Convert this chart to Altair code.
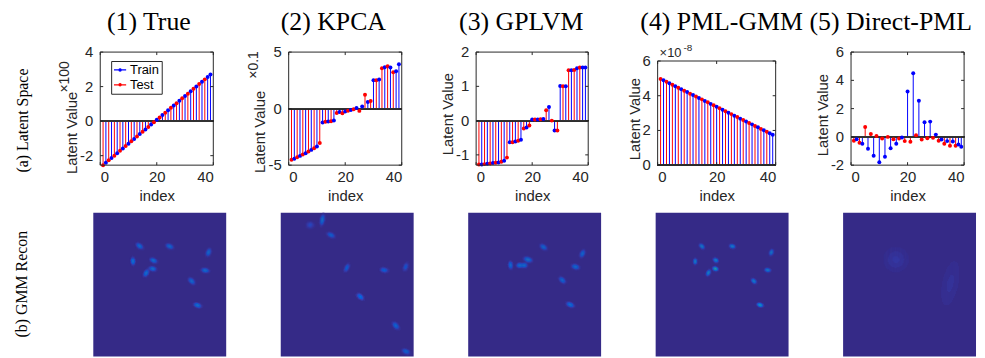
import altair as alt
import numpy as np
import pandas as pd

# ---------------- data ----------------
IDX = list(range(1, 40))
SET = ["Test", "Train"] * 19 + ["Train"]

TRUE_V = [-2.55, -2.41, -2.27, -2.14, -2.00, -1.86, -1.72, -1.58, -1.44, -1.31,
          -1.17, -1.03, -0.89, -0.75, -0.62, -0.48, -0.34, -0.20, -0.06, 0.08,
          0.21, 0.35, 0.49, 0.63, 0.77, 0.90, 1.04, 1.18, 1.32, 1.46,
          1.59, 1.73, 1.87, 2.01, 2.15, 2.28, 2.42, 2.56, 2.70]
KPCA_V = [-4.53, -4.44, -4.30, -4.18, -4.06, -3.95, -3.80, -3.65, -3.50, -3.36,
          -3.04, -1.23, -1.17, -1.14, -1.11, -1.05, -0.38, -0.29, -0.41, -0.26,
          -0.18, -0.12, -0.06, 0.06, -0.20, 0.18, 1.23, 0.58, 0.67, 2.51,
          2.51, 2.57, 3.57, 3.65, 3.74, 3.63, 3.22, 3.30, 3.92]
GPLVM_V = [-1.28, -1.28, -1.27, -1.26, -1.25, -1.24, -1.23, -1.22, -1.20, -1.17,
           -1.08, -0.63, -0.63, -0.61, -0.59, -0.56, -0.23, -0.20, -0.14, 0.03,
           0.03, 0.03, 0.04, 0.05, 0.30, 0.40, 0.00, -0.29, -0.29, 1.01,
           1.00, 1.00, 1.47, 1.47, 1.48, 1.53, 1.55, 1.55, 1.55]
PML_V = [4.97, 4.89, 4.80, 4.72, 4.63, 4.55, 4.46, 4.38, 4.29, 4.21,
         4.12, 4.04, 3.95, 3.87, 3.79, 3.70, 3.62, 3.53, 3.45, 3.36,
         3.28, 3.19, 3.11, 3.02, 2.94, 2.85, 2.77, 2.68, 2.60, 2.52,
         2.43, 2.35, 2.26, 2.18, 2.09, 2.01, 1.92, 1.84, 1.75]
DIRECT_V = [-0.28, -0.16, -0.42, -0.49, 0.70, -0.84, 0.21, -1.33, 0.07, -1.80,
            -0.12, -1.40, 0.00, -0.80, -0.16, -0.49, -0.12, -0.05, -0.30, 3.21,
            -0.35, 4.50, 0.12, 2.55, -0.19, 1.03, -0.09, 1.08, -0.07, 0.16,
            -0.28, -0.19, -0.49, -0.30, -0.63, -0.33, -0.63, -0.54, -0.70]

TITLES = ["(1) True", "(2) KPCA", "(3) GPLVM", "(4) PML-GMM", "(5) Direct-PML"]
ROW_LABELS = ["(a) Latent Space", "(b) GMM Recon"]
X_TICKS = [0, 20, 40]
Y_TICKS = [[-2, 0, 2, 4], [-5, 0, 5], [-1, 0, 1, 2], [0, 2, 4, 6], [-2, 0, 2, 4, 6]]
Y_LABELS = [["-2", "0", "2", "4"], ["-5", "0", "5"], ["-1", "0", "1", "2"],
            ["0", "2", "4", "6"], ["-2", "0", "2", "4", "6"]]

# GMM components for the reconstructed images: cx, cy, sigma_long, sigma_short, angle, peak
IMG1 = [(46.7, 33.7, 2.4, 1.5, 35, 0.24), (77.0, 34.0, 2.4, 1.5, 25, 0.24),
        (116.3, 40.0, 2.4, 1.5, -70, 0.24), (40.0, 49.0, 2.4, 1.4, 88, 0.24),
        (60.7, 48.3, 2.4, 1.5, 30, 0.24), (60.0, 56.7, 2.2, 1.5, 15, 0.24),
        (53.3, 61.0, 2.4, 1.5, -60, 0.24), (113.0, 58.3, 2.4, 1.5, 10, 0.24),
        (99.3, 69.0, 2.4, 1.5, 45, 0.24), (105.3, 93.3, 2.4, 1.5, 20, 0.24)]
IMG2 = [(29.7, 12.3, 2.6, 2.3, 0, 0.11), (42.0, 7.3, 3.2, 1.4, -80, 0.26),
        (50.7, 22.7, 2.6, 1.5, 25, 0.2), (66.7, 55.7, 2.8, 1.5, -65, 0.17),
        (104.3, 58.0, 2.6, 1.6, 10, 0.17), (126.0, 54.7, 2.8, 1.6, -70, 0.14),
        (80.3, 84.7, 2.6, 1.6, 40, 0.18), (116.0, 114.0, 2.6, 1.6, 50, 0.21),
        (126.3, 140.0, 2.6, 1.6, 25, 0.21)]
IMG3 = [(76.0, 34.7, 2.4, 1.5, 35, 0.23), (115.3, 41.3, 2.4, 1.5, -65, 0.22),
        (42.7, 53.0, 2.4, 1.4, 85, 0.22), (51.7, 53.3, 1.9, 1.6, 0, 0.22),
        (56.7, 53.3, 1.9, 1.6, 0, 0.22), (60.3, 47.3, 2.6, 1.6, 20, 0.27),
        (108.3, 54.7, 2.4, 1.6, 15, 0.23), (95.0, 68.0, 2.4, 1.5, 45, 0.23),
        (103.0, 92.7, 2.5, 1.5, 25, 0.23)]
IMG4 = [(46.7, 34.0, 1.8, 1.2, 45, 0.34), (77.3, 34.0, 1.8, 1.2, 15, 0.32),
        (116.7, 40.0, 1.8, 1.2, -70, 0.32), (40.0, 49.3, 1.8, 1.1, 90, 0.34),
        (60.7, 48.0, 1.7, 1.3, 40, 0.32), (60.3, 56.7, 1.6, 1.2, 20, 0.52),
        (53.3, 60.7, 1.9, 1.2, -65, 0.34), (113.0, 58.0, 1.8, 1.2, 10, 0.32),
        (99.0, 69.0, 1.8, 1.2, 45, 0.32), (105.3, 93.0, 1.8, 1.2, 20, 0.4)]
IMG5 = [(53.3, 47.3, 8.3, 8.3, 0, 0.052), (108.3, 71.3, 17.5, 6.3, -78, 0.036)]

# parula colour map (index 0..63)
PAR_D = [0, 1, 2, 3, 4, 5, 6, 7, 8, 9, 10, 12, 14, 16, 19, 22, 25, 28, 31, 36, 42, 48, 54, 58, 63]
PAR_C = ["#352A87", "#363093", "#3637A0", "#353DAD", "#3243BA", "#2B4AC7", "#2053D4",
         "#0F5CDD", "#0363E1", "#0268E1", "#046DE0", "#0D75DC", "#127DD8", "#1485D4",
         "#0C93D2", "#06A0CD", "#07A9C2", "#15B1B4", "#2EB7A4", "#59BD8C", "#8CBE74",
         "#BABC62", "#E4B94E", "#F8C63A", "#F9FB0E"]

AXF = "Liberation Sans"
AXC = "#262626"
SERIF = "Liberation Serif"
LEG_SYM = "M-1,0L1,0M-0.18,0a0.18,0.18 0 1,0 0.36,0a0.18,0.18 0 1,0 -0.36,0"
ROW_H = 114
IMG_W, IMG_H = 134, 145


def note(text, x, y, size=14, angle=0, align="left", baseline="alphabetic", font=AXF, color=AXC):
    return alt.Chart(pd.DataFrame({"t": [text]})).mark_text(
        font=font, fontSize=size, angle=angle, align=align, baseline=baseline, color=color
    ).encode(text="t:N", x=alt.value(x), y=alt.value(y))


def stem_panel(k, vals, width, ydom, title_x, title_y, title_dx, top=0,
               legend=False, extra=()):
    height = ROW_H
    yticks, ylabels = Y_TICKS[k], Y_LABELS[k]
    xs = alt.Scale(domain=[0, 40], nice=False, zero=False)
    ys = alt.Scale(domain=ydom, nice=False, zero=False, range=[height, top])
    xaxis = alt.Axis(title="index", values=X_TICKS, ticks=False, domain=False, grid=False,
                     labelPadding=4, titlePadding=5, format="d", labelOverlap=False)
    yaxis = alt.Axis(title="Latent Value", values=yticks, ticks=False, domain=False,
                     grid=False, labels=False, titleX=title_x, titleY=title_y)
    X = alt.X("index:Q", scale=xs, axis=xaxis)
    Y = alt.Y("value:Q", scale=ys, axis=yaxis)
    df = pd.DataFrame({"index": IDX, "value": vals, "set": SET})
    if legend:
        leg = alt.Legend(title=None, orient="none", legendX=11, legendY=9,
                         symbolType=LEG_SYM, symbolSize=150, symbolStrokeWidth=1.3,
                         labelFont=AXF, labelFontSize=13, labelColor="black",
                         strokeColor=AXC, fillColor="white", padding=2, rowPadding=1,
                         labelOffset=3)
    else:
        leg = None
    C = alt.Color("set:N", scale=alt.Scale(domain=["Train", "Test"],
                                           range=["#0000FF", "#FF0000"]), legend=leg)
    box = alt.Chart(pd.DataFrame({"b": [0]})).mark_rect(fill="white").encode(
        x=alt.value(0), x2=alt.value(width), y=alt.value(top), y2=alt.value(height))
    stems = alt.Chart(df).mark_rule(strokeWidth=1).encode(x=X, y=Y, y2=alt.datum(0), color=C)
    base0 = alt.Chart(df).mark_rule(color="#333333", strokeWidth=1).encode(
        x=alt.value(0), x2=alt.value(width), y=alt.datum(0))
    dots = alt.Chart(df).mark_circle(size=16, opacity=1).encode(x=X, y=Y, color=C)
    xt = pd.DataFrame({"index": X_TICKS})
    yt = pd.DataFrame({"value": yticks, "lab": ylabels})
    t1 = alt.Chart(xt).mark_rule(color=AXC).encode(x=X, y=alt.value(top), y2=alt.value(top + 3))
    t2 = alt.Chart(xt).mark_rule(color=AXC).encode(x=X, y=alt.value(height), y2=alt.value(height - 3))
    t3 = alt.Chart(yt).mark_rule(color=AXC).encode(y=Y, x=alt.value(0), x2=alt.value(3))
    t4 = alt.Chart(yt).mark_rule(color=AXC).encode(y=Y, x=alt.value(width), x2=alt.value(width - 3))
    ylab = alt.Chart(yt).mark_text(align="right", baseline="middle", font=AXF, fontSize=15,
                                   color=AXC).encode(y=Y, x=alt.value(-7), text="lab:N")
    frame = alt.Chart(pd.DataFrame({"b": [0]})).mark_rect(
        fill="transparent", stroke=AXC, strokeWidth=1).encode(
        x=alt.value(0), x2=alt.value(width), y=alt.value(top), y2=alt.value(height))
    ttl = note(TITLES[k], width / 2 + title_dx, -22, size=26, align="center",
               baseline="alphabetic", font=SERIF, color="black")
    layers = [box, stems, base0, dots, t1, t2, t3, t4, ylab, frame, ttl] + list(extra)
    return alt.layer(*layers).properties(
        width=width, height=height, view=alt.ViewBackground(stroke="transparent"))


def gap(w, h, extra=()):
    pt = alt.Chart(pd.DataFrame({"a": [0]})).mark_point(opacity=0).encode(
        x=alt.value(0), y=alt.value(0))
    return alt.layer(pt, *extra).properties(
        width=w, height=h, view=alt.ViewBackground(stroke="transparent"))


def img_panel(blobs, cell_w, off):
    W, H = IMG_W, IMG_H
    yy, xx = np.mgrid[0:H, 0:W]
    xc, yc = xx + 0.5, yy + 0.5
    v = np.zeros((H, W))
    for cx, cy, sa, sb, ang, amp in blobs:
        th = np.radians(ang)
        dx, dy = xc - cx, yc - cy
        u = dx * np.cos(th) + dy * np.sin(th)
        w = -dx * np.sin(th) + dy * np.cos(th)
        v += amp * np.exp(-0.5 * ((u / sa) ** 2 + (w / sb) ** 2))
    ci = np.clip(np.floor(v * 63), 0, 63)
    m = ci >= 1
    df = pd.DataFrame({"x0": xx[m], "x1": xx[m] + 1, "y0": yy[m], "y1": yy[m] + 1, "c": ci[m]})
    bg = alt.Chart(pd.DataFrame({"b": [0]})).mark_rect(fill=PAR_C[0]).encode(
        x=alt.value(-off), x2=alt.value(W - off), y=alt.value(0), y2=alt.value(H))
    rect = alt.Chart(df).mark_rect().encode(
        x=alt.X("x0:Q", scale=alt.Scale(domain=[0, W], nice=False, zero=False,
                                        range=[-off, W - off]), axis=None),
        x2="x1",
        y=alt.Y("y0:Q", scale=alt.Scale(domain=[0, H], nice=False, zero=False, reverse=True),
                axis=None),
        y2="y1",
        color=alt.Color("c:Q", scale=alt.Scale(domain=PAR_D, range=PAR_C, interpolate="rgb"),
                        legend=None),
    )
    return alt.layer(bg, rect).properties(
        width=cell_w, height=H, view=alt.ViewBackground(stroke="transparent"))


p1 = stem_panel(0, TRUE_V, 114, [-2.55, 4], -21, 81, -8, legend=True,
                extra=[note("\u00d7100", -28, 25, size=14, angle=270, align="center", baseline="bottom")])
p2 = stem_panel(1, KPCA_V, 114, [-5, 5], -21, 80, -12,
                extra=[note("\u00d70.1", -28, 13, size=14, angle=270, align="center", baseline="bottom")])
p3 = stem_panel(2, GPLVM_V, 113, [-1.3, 2], -21, 62, -11)
p4 = stem_panel(3, PML_V, 119, [0, 6], -15, 67, 5, top=9,
                extra=[note("\u00d710", 2, 5, size=13), note("-8", 26, -1, size=10)])
p5 = stem_panel(4, DIRECT_V, 114, [-2, 6], -21, 63, -17)

labA = gap(7, ROW_H, extra=[note(ROW_LABELS[0], -71, 69, size=16, angle=270, align="center",
                                 baseline="middle", font=SERIF, color="black")])
labB = gap(7, IMG_H, extra=[note(ROW_LABELS[1], -72, 72, size=16, angle=270, align="center",
                                 baseline="middle", font=SERIF, color="black")])

row1 = [labA, p1, gap(76, ROW_H), p2, gap(75, ROW_H), p3, gap(70, ROW_H),
        p4, gap(76, ROW_H), p5]
row2 = [labB, img_panel(IMG1, 114, 7), gap(1, IMG_H), img_panel(IMG2, 114, 8), gap(1, IMG_H),
        img_panel(IMG3, 113, 8), gap(1, IMG_H), img_panel(IMG4, 119, 2), gap(1, IMG_H),
        img_panel(IMG5, 114, 8)]

chart = alt.concat(*(row1 + row2), columns=10, spacing={"row": 48, "column": 0},
                   bounds="flush", align="each").resolve_scale(
    color="independent").properties(
    padding={"left": 5, "top": -1, "right": 0, "bottom": 0}, background="white"
).configure_axis(
    labelFont=AXF, labelFontSize=15, labelColor=AXC, titleFont=AXF, titleFontSize=15,
    titleFontWeight="normal", titleColor=AXC
)

chart.save("out.html", embed_options={"renderer": "svg", "actions": False})
